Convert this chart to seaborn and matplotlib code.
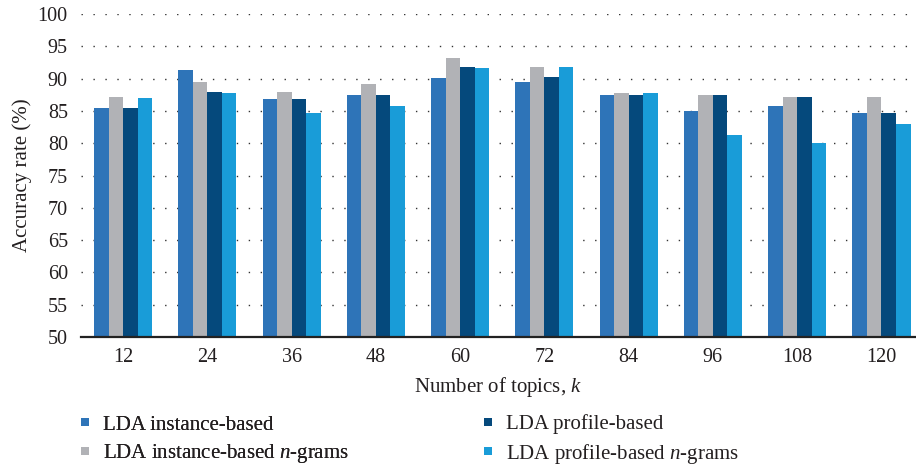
import pandas as pd
import seaborn as sns
import matplotlib.pyplot as plt
from matplotlib.lines import Line2D

# accuracy (%) per number of topics
topics = ['12', '24', '36', '48', '60', '72', '84', '96', '108', '120']
lda_instance = [85.4, 91.3, 86.8, 87.5, 90.1, 89.5, 87.5, 85.0, 85.8, 84.7]
lda_instance_ngrams = [87.1, 89.5, 87.9, 89.2, 93.2, 91.8, 87.8, 87.5, 87.1, 87.1]
lda_profile = [85.4, 87.9, 86.8, 87.5, 91.8, 90.2, 87.5, 87.5, 87.1, 84.7]
lda_profile_ngrams = [87.0, 87.8, 84.7, 85.8, 91.6, 91.8, 87.8, 81.3, 80.0, 83.0]

methods = ['LDA instance-based', 'LDA instance-based $n$-grams',
           'LDA profile-based', 'LDA profile-based $n$-grams']
colors = ['#2E74B8', '#B1B2B6', '#05497C', '#199CD8']

df = pd.DataFrame({
    'k': topics * 4,
    'acc': lda_instance + lda_instance_ngrams + lda_profile + lda_profile_ngrams,
    'method': [m for m in methods for _ in topics],
})

sns.set_style('white')
plt.rcParams['font.family'] = ['Liberation Serif', 'DejaVu Serif']
plt.rcParams['mathtext.fontset'] = 'custom'
plt.rcParams['mathtext.rm'] = 'Liberation Serif'
plt.rcParams['mathtext.it'] = 'Liberation Serif:italic'
txt = '#231F20'

fig = plt.figure(figsize=(9.16, 4.68), dpi=100)
ax = fig.add_axes([0.0884, 0.2799, 0.9116, 0.690])

sns.barplot(data=df, x='k', y='acc', hue='method', hue_order=methods,
            palette=colors, width=0.69, gap=0, saturation=1,
            linewidth=0, legend=False, ax=ax)

ax.set_ylim(50, 100)
ax.set_xlim(-0.5, 9.41)
ax.set_yticks(range(50, 101, 5))
ax.yaxis.grid(True, color='#333333', linestyle=(0, (1, 7.6)), linewidth=1.0)
ax.set_axisbelow(True)
for s in ['top', 'right', 'left']:
    ax.spines[s].set_visible(False)
ax.spines['bottom'].set_color('#222222')
ax.spines['bottom'].set_linewidth(1.6)
ax.spines['bottom'].set_zorder(5)

ax.tick_params(axis='x', length=0, pad=8, labelsize=14.5, colors=txt)
ax.tick_params(axis='y', length=0, pad=9.5, labelsize=14.5, colors=txt)
ax.set_xlabel('Number of topics, $k$', fontsize=15, color=txt, labelpad=6)
ax.set_ylabel('Accuracy rate (%)', fontsize=15, color=txt, labelpad=4)

handles = [Line2D([], [], marker='s', linestyle='none', markersize=5.5,
                  markerfacecolor=c, markeredgewidth=0) for c in colors]
common = dict(loc='center left', frameon=False, fontsize=15, handlelength=0.7,
              handletextpad=0.5, labelspacing=0.35, borderpad=0, borderaxespad=0,
              labelcolor=txt)
leg1 = fig.legend(handles[:2], methods[:2], bbox_to_anchor=(78 / 916, 1 - 440 / 468), **common)
fig.add_artist(leg1)
fig.legend(handles[2:], methods[2:], bbox_to_anchor=(481 / 916, 1 - 440 / 468), **common)

plt.savefig('out.png', dpi=100)
